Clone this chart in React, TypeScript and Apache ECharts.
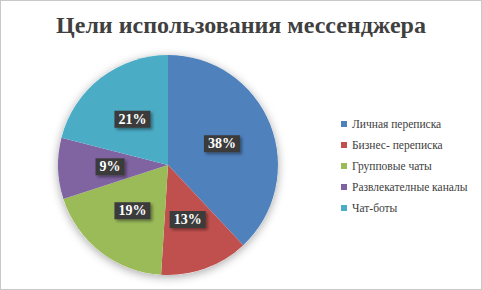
import React, { useEffect, useRef } from "react";
import * as echarts from "echarts";

const TITLE = "Цели использования мессенджера";
const categories = ["Личная переписка", "Бизнес- переписка", "Групповые чаты", "Развлекателные каналы", "Чат-боты"];
const values = [38, 13, 19, 9, 21];
const colors = ["#4F81BD", "#C0504D", "#9BBB59", "#8064A2", "#4BACC6"];
const SERIF = "Liberation Serif";

export default function App() {
  const ref = useRef<HTMLDivElement>(null);
  useEffect(() => {
    document.body.style.margin = "0";
    const chart = echarts.init(ref.current!, null, { renderer: "svg" });
    const total = values.reduce((a, b) => a + b, 0);
    chart.setOption({
      animation: false,
      backgroundColor: "#ffffff",
      title: {
        text: TITLE,
        left: "center",
        top: 7,
        textStyle: { fontFamily: SERIF, fontWeight: "bold", fontSize: 24, color: "#404040" },
      },
      legend: {
        orient: "vertical",
        left: 336,
        top: 114,
        icon: "rect",
        itemWidth: 6,
        itemHeight: 6,
        itemGap: 7,
        padding: [2, 4],
        data: categories,
        textStyle: { fontFamily: SERIF, fontSize: 11.5, color: "#404040", lineHeight: 14 },
      },
      series: [
        {
          type: "pie",
          silent: true,
          center: [167, 164],
          radius: 110,
          z: 1,
          label: { show: false },
          labelLine: { show: false },
          itemStyle: { color: "#ffffff", shadowBlur: 10, shadowColor: "rgba(0,0,0,0.35)", shadowOffsetY: 2 },
          data: [{ value: total, name: "total" }],
        },
        {
          type: "pie",
          center: [167, 164],
          radius: 110,
          startAngle: 90,
          clockwise: true,
          z: 2,
          itemStyle: { borderWidth: 0 },
          label: {
            show: true,
            position: "inside",
            formatter: "{c}%",
            fontFamily: SERIF,
            fontWeight: "bold",
            fontSize: 14,
            color: "#ffffff",
            backgroundColor: "#3b3b3b",
            padding: [2, 4, 1, 4],
            shadowBlur: 3,
            shadowOffsetX: 2,
            shadowOffsetY: 2,
            shadowColor: "rgba(0,0,0,0.4)",
          },
          labelLine: { show: false },
          data: categories.map((name, i) => ({ name, value: values[i], itemStyle: { color: colors[i] } })),
        },
      ],
    });
    return () => chart.dispose();
  }, []);
  return (
    <div
      style={{ position: "absolute", left: 0, top: 0, width: 482, height: 290, boxSizing: "border-box", border: "1px solid #c8c8c8" }}
    >
      <div ref={ref} style={{ width: 480, height: 288 }} />
    </div>
  );
}
